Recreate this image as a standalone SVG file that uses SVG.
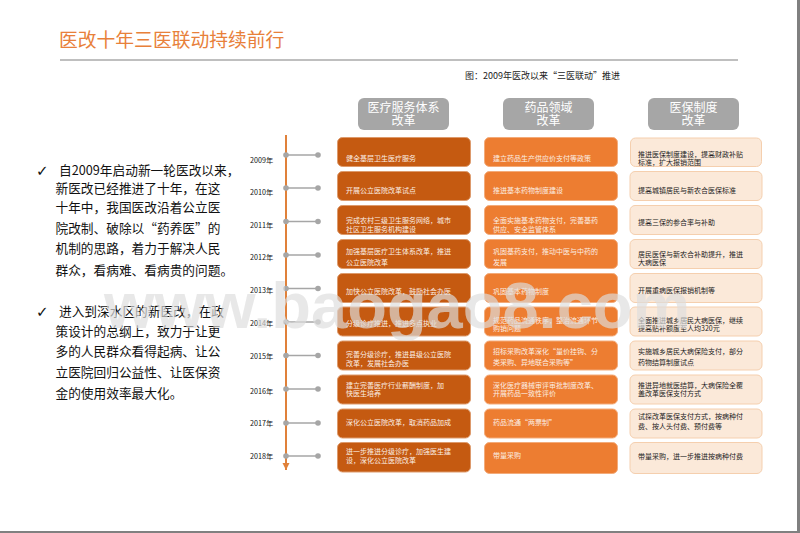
<svg xmlns="http://www.w3.org/2000/svg" width="800" height="533" viewBox="0 0 800 533">
<style>
text{font-family:"Noto Sans CJK SC","Liberation Sans",sans-serif}
.hd rect{fill:#a6a6a6}
.hd text{fill:#fff;font-size:12px;text-anchor:middle}
.c1 rect{fill:#c55a11;stroke:#dd9a6c;stroke-width:1}
.c2 rect{fill:#ed7d31;stroke:#f3ab7a;stroke-width:1}
.c3 rect{fill:#fbe9d9;stroke:#f5cfae;stroke-width:1}
.c1 text,.c2 text{fill:#fbeee4;font-size:7px}
.c3 text{fill:#222;font-size:7px}
.yr{fill:#111;font-size:7.200px}
.body{fill:#111;font-size:12.7px}
.chk{fill:#111;font-size:15px;font-family:"DejaVu Sans",sans-serif;font-weight:bold}
.ln{stroke:#a6a6a6;stroke-width:1.6;fill:none}
.dot{fill:#a6a6a6}
</style>
<defs><marker id="ah" markerUnits="userSpaceOnUse" markerWidth="8" markerHeight="8" refX="7" refY="3.5" orient="auto"><path d="M0 0L7 3.5L0 7Z" fill="#e0813a"/></marker></defs>
<rect width="800" height="533" fill="#fff"/>
<rect x="797" y="0" width="3" height="533" fill="#808080"/>
<rect x="0" y="531" width="800" height="2" fill="#808080"/>
<g id="title">
<text x="59" y="47" font-size="18.8" fill="#e8803a">医改十年三医联动持续前行</text>
<rect x="60" y="59" width="678" height="2" fill="#bfbfbf"/>
</g>
<text id="caption" x="465" y="79" font-size="9" fill="#222">图：2009年医改以来“三医联动”推进</text>
<g id="intro">
<text class="chk" x="36" y="176">✓</text>
<text class="body" x="59" y="175">自2009年启动新一轮医改以来，</text>
<text class="body" x="55.5" y="193">新医改已经推进了十年，在这</text>
<text class="body" x="55.5" y="212">十年中，我国医改沿着公立医</text>
<text class="body" x="55.5" y="232.500">院改制、破除以“药养医”的</text>
<text class="body" x="55.5" y="252.500">机制的思路，着力于解决人民</text>
<text class="body" x="55.5" y="274.500">群众，看病难、看病贵的问题。</text>
<text class="chk" x="36" y="316.500">✓</text>
<text class="body" x="59" y="315.500">进入到深水区的新医改，在政</text>
<text class="body" x="55.5" y="335.500">策设计的总纲上，致力于让更</text>
<text class="body" x="55.5" y="355.500">多的人民群众看得起病、让公</text>
<text class="body" x="55.5" y="377">立医院回归公益性、让医保资</text>
<text class="body" x="55.5" y="397.500">金的使用效率最大化。</text>
</g>
<g id="headers">
<g id="h1" class="hd"><rect x="358" y="98" width="91" height="32" rx="6"/><text x="403.500" y="112">医疗服务体系</text><text x="403.500" y="125">改革</text></g>
<g id="h2" class="hd"><rect x="503" y="98" width="91" height="32" rx="6"/><text x="548.500" y="112">药品领域</text><text x="548.500" y="125">改革</text></g>
<g id="h3" class="hd"><rect x="648" y="98" width="91" height="32" rx="6"/><text x="693.500" y="112">医保制度</text><text x="693.500" y="125">改革</text></g>
</g>
<g id="connectors">
<line x1="286" y1="135" x2="286" y2="470" stroke="#e0813a" stroke-width="2" marker-end="url(#ah)"/>
<g class="ln">
<path d="M286 155H318M286 188H318M286 221.500H318M286 255H318M286 288.500H318M286 322H318M286 355.500H318M286 389H318M286 423H318M286 456H318"/>
</g>
<g class="dot">
<circle cx="286" cy="155" r="2.800"/><circle cx="318" cy="155" r="2.800"/>
<circle cx="286" cy="188" r="2.800"/><circle cx="318" cy="188" r="2.800"/>
<circle cx="286" cy="221.500" r="2.800"/><circle cx="318" cy="221.500" r="2.800"/>
<circle cx="286" cy="255" r="2.800"/><circle cx="318" cy="255" r="2.800"/>
<circle cx="286" cy="288.500" r="2.800"/><circle cx="318" cy="288.500" r="2.800"/>
<circle cx="286" cy="322" r="2.800"/><circle cx="318" cy="322" r="2.800"/>
<circle cx="286" cy="355.500" r="2.800"/><circle cx="318" cy="355.500" r="2.800"/>
<circle cx="286" cy="389" r="2.800"/><circle cx="318" cy="389" r="2.800"/>
<circle cx="286" cy="423" r="2.800"/><circle cx="318" cy="423" r="2.800"/>
<circle cx="286" cy="456" r="2.800"/><circle cx="318" cy="456" r="2.800"/>
</g>
</g>
<g id="years">
<text class="yr" x="250" y="162.500">2009年</text>
<text class="yr" x="250" y="195">2010年</text>
<text class="yr" x="250" y="228">2011年</text>
<text class="yr" x="250" y="260">2012年</text>
<text class="yr" x="250" y="293">2013年</text>
<text class="yr" x="250" y="326">2014年</text>
<text class="yr" x="250" y="359">2015年</text>
<text class="yr" x="250" y="394">2016年</text>
<text class="yr" x="250" y="426">2017年</text>
<text class="yr" x="250" y="459">2018年</text>
</g>
<g id="col1">
<g id="a2009" class="c1"><rect x="337.500" y="137.500" width="133" height="29" rx="5"/><text x="346" y="161">健全基层卫生医疗服务</text></g>
<g id="a2010" class="c1"><rect x="337.500" y="171.500" width="133" height="29" rx="5"/><text x="346" y="193">开展公立医院改革试点</text></g>
<g id="a2011" class="c1"><rect x="337.500" y="205.500" width="133" height="29" rx="5"/><text x="346" y="223">完成农村三级卫生服务网络，城市</text><text x="346" y="231.500">社区卫生服务机构建设</text></g>
<g id="a2012" class="c1"><rect x="337.500" y="239.500" width="133" height="29" rx="5"/><text x="346" y="254">加强基层医疗卫生体系改革，推进</text><text x="346" y="265">公立医院改革</text></g>
<g id="a2013" class="c1"><rect x="337.500" y="273.500" width="133" height="29" rx="5"/><text x="346" y="294">加快公立医院改革，鼓励社会办医</text></g>
<g id="a2014" class="c1"><rect x="337.500" y="307" width="133" height="29" rx="5"/><text x="346" y="326">分级诊疗推进，推进多点执业</text></g>
<g id="a2015" class="c1"><rect x="337.500" y="341" width="133" height="29" rx="5"/><text x="346" y="356.500">完善分级诊疗，推进县级公立医院</text><text x="346" y="365.500">改革，发展社会办医</text></g>
<g id="a2016" class="c1"><rect x="337.500" y="375" width="133" height="29" rx="5"/><text x="346" y="388">建立完善医疗行业薪酬制度，加</text><text x="346" y="396">快医生培养</text></g>
<g id="a2017" class="c1"><rect x="337.500" y="409" width="133" height="29" rx="5"/><text x="346" y="425">深化公立医院改革，取消药品加成</text></g>
<g id="a2018" class="c1"><rect x="337.500" y="442.500" width="133" height="29.500" rx="5"/><text x="346" y="454">进一步推进分级诊疗，加强医生建</text><text x="346" y="463">设，深化公立医院改革</text></g>
</g>
<g id="col2">
<g id="b2009" class="c2"><rect x="484.500" y="137.500" width="133" height="29" rx="5"/><text x="493" y="161">建立药品生产供应价支付等政策</text></g>
<g id="b2010" class="c2"><rect x="484.500" y="171.500" width="133" height="29" rx="5"/><text x="493" y="193">推进基本药物制度建设</text></g>
<g id="b2011" class="c2"><rect x="484.500" y="205.500" width="133" height="29" rx="5"/><text x="493" y="223">全面实施基本药物支付，完善基药</text><text x="493" y="231.500">供应、安全监管体系</text></g>
<g id="b2012" class="c2"><rect x="484.500" y="239.500" width="133" height="29" rx="5"/><text x="493" y="254">巩固基药支付，推动中医与中药的</text><text x="493" y="265">发展</text></g>
<g id="b2013" class="c2"><rect x="484.500" y="273.500" width="133" height="29" rx="5"/><text x="493" y="294">巩固基本药物制度</text></g>
<g id="b2014" class="c2"><rect x="484.500" y="307" width="133" height="29" rx="5"/><text x="493" y="322.500">规范药品流通秩序，整治流通环节</text><text x="493" y="331">购销问题</text></g>
<g id="b2015" class="c2"><rect x="484.500" y="341" width="133" height="29" rx="5"/><text x="493" y="354">招标采购改革深化“量价挂钩、分</text><text x="493" y="365">类采购、异地联合采购等”</text></g>
<g id="b2016" class="c2"><rect x="484.500" y="375" width="133" height="29" rx="5"/><text x="493" y="388">深化医疗器械审评审批制度改革、</text><text x="493" y="396">开展药品一致性评价</text></g>
<g id="b2017" class="c2"><rect x="484.500" y="409" width="133" height="29" rx="5"/><text x="493" y="425">药品流通“两票制”</text></g>
<g id="b2018" class="c2"><rect x="484.500" y="442.500" width="133" height="31" rx="5"/><text x="493" y="458">带量采购</text></g>
</g>
<g id="col3">
<g id="c2009" class="c3"><rect x="630.500" y="138" width="131" height="28.500" rx="5"/><text x="638" y="156.500">推进医保制度建设，提高财政补贴</text><text x="638" y="164.500">标准，扩大报销范围</text></g>
<g id="c2010" class="c3"><rect x="630" y="171.500" width="132" height="29" rx="5"/><text x="638" y="193">提高城镇居民与新农合医保标准</text></g>
<g id="c2011" class="c3"><rect x="630" y="205.500" width="132" height="29" rx="5"/><text x="638" y="225">提高三保的参合率与补助</text></g>
<g id="c2012" class="c3"><rect x="630" y="239.500" width="132" height="29" rx="5"/><text x="638" y="256.500">居民医保与新农合补助提升，推进</text><text x="638" y="264.500">大病医保</text></g>
<g id="c2013" class="c3"><rect x="630" y="273.500" width="132" height="29" rx="5"/><text x="638" y="293">开展重病医保报销机制等</text></g>
<g id="c2014" class="c3"><rect x="630" y="307" width="132" height="29" rx="5"/><text x="638" y="322.500">全面推进城乡居民大病医保，继续</text><text x="638" y="331">提高贴补额度至人均320元</text></g>
<g id="c2015" class="c3"><rect x="630" y="341" width="132" height="29" rx="5"/><text x="638" y="354">实施城乡居民大病保险支付，部分</text><text x="638" y="364.500">药物结算制度试点</text></g>
<g id="c2016" class="c3"><rect x="630" y="375" width="132" height="29" rx="5"/><text x="638" y="388">推进异地就医结算，大病保险全覆</text><text x="638" y="396">盖改革医保支付方式</text></g>
<g id="c2017" class="c3"><rect x="630" y="409" width="132" height="29" rx="5"/><text x="638" y="419">试探改革医保支付方式，按病种付</text><text x="638" y="429">费、按人头付费、预付费等</text></g>
<g id="c2018" class="c3"><rect x="630" y="442.500" width="132" height="31" rx="5"/><text x="638" y="459">带量采购，进一步推进按病种付费</text></g>
</g>
<text id="watermark" x="104" y="328" font-size="65" font-weight="bold" fill="#ddd" fill-opacity=".68" style="font-family:'Liberation Sans',sans-serif">www.baogao8.com</text>
</svg>
